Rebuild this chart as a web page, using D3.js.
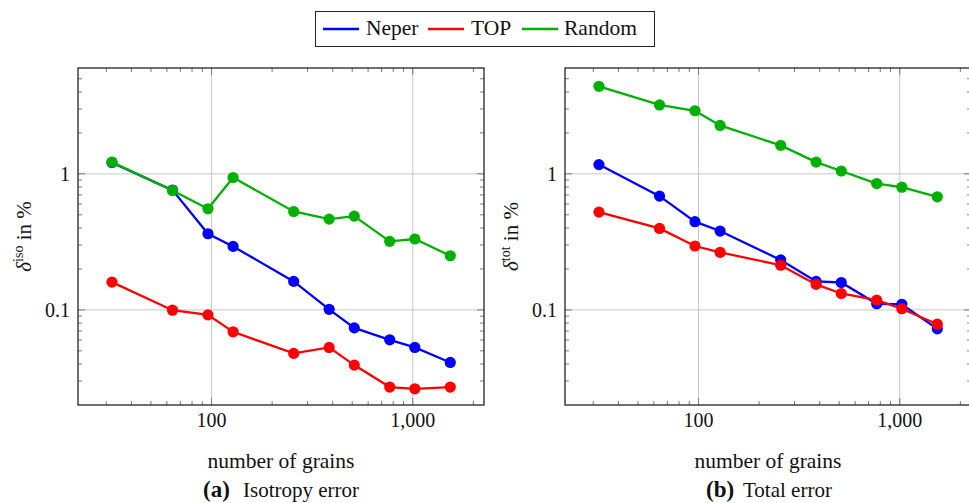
<!DOCTYPE html>
<html>
<head>
<meta charset="utf-8">
<script src="https://cdn.jsdelivr.net/npm/d3@7"></script>
<style>
  body { margin: 0; background: #fff; }
  svg { font-family: "Liberation Serif", "DejaVu Serif", serif; fill: #111; }
</style>
</head>
<body>
<svg id="chart" width="969" height="503"></svg>
<script>
// number of grains (x values, same for every series)
var grains = [32, 64, 96, 128, 256, 384, 512, 768, 1024, 1536];

// (a) isotropy error in %
var isoNeper  = [1.21, 0.76, 0.363, 0.293, 0.162, 0.101, 0.0738, 0.0603, 0.053, 0.0411];
var isoTop    = [0.160, 0.0995, 0.0919, 0.069, 0.0479, 0.053, 0.0393, 0.0271, 0.0263, 0.0271];
var isoRandom = [1.22, 0.755, 0.554, 0.94, 0.529, 0.465, 0.489, 0.319, 0.332, 0.25];

// (b) total error in %
var totNeper  = [1.17, 0.686, 0.445, 0.380, 0.233, 0.162, 0.159, 0.111, 0.110, 0.0726];
var totTop    = [0.523, 0.397, 0.295, 0.265, 0.213, 0.154, 0.132, 0.118, 0.102, 0.0785];
var totRandom = [4.40, 3.21, 2.91, 2.27, 1.62, 1.22, 1.05, 0.849, 0.798, 0.678];

var seriesNames = ["Neper", "TOP", "Random"];
var colors = {Neper: "#0000ff", TOP: "#ff0000", Random: "#00b000"};

var xTicks = [100, 1000];
var yTicks = [0.1, 1];

var svg = d3.select("#chart");

// legend
var leg = svg.append("g");
leg.append("rect").attr("x", 315.5).attr("y", 11.5).attr("width", 339).attr("height", 35)
  .attr("fill", "#fff").attr("stroke", "#222").attr("stroke-width", 1);
var legPos = [{lx: 323, tx: 366}, {lx: 428, tx: 471}, {lx: 522, tx: 564}];
seriesNames.forEach(function(s, i) {
  leg.append("line").attr("x1", legPos[i].lx).attr("x2", legPos[i].lx + 36)
    .attr("y1", 29).attr("y2", 29).attr("stroke", colors[s]).attr("stroke-width", 2.3);
  leg.append("text").attr("x", legPos[i].tx).attr("y", 35).attr("font-size", 21.5).text(s);
});

function minorTicks(lo, hi) {
  var out = [];
  for (var e = Math.floor(Math.log10(lo)); e <= Math.ceil(Math.log10(hi)); e++) {
    for (var m = 2; m <= 9; m++) {
      var v = m * Math.pow(10, e);
      if (v > lo && v < hi) out.push(v);
    }
  }
  return out;
}

function panel(x0, x1, data, ysup, capLetter, capText, capX, capTx) {
  var y0 = 68, y1 = 405;
  var x = d3.scaleLog().domain([21.7, 2259]).range([x0, x1]);
  var y = d3.scaleLog().domain([0.02, 6]).range([y1, y0]);
  var g = svg.append("g");

  // grid
  xTicks.forEach(function(t) {
    g.append("line").attr("x1", x(t)).attr("x2", x(t)).attr("y1", y0).attr("y2", y1)
      .attr("stroke", "#c8c8c8").attr("stroke-width", 1);
  });
  yTicks.forEach(function(t) {
    g.append("line").attr("x1", x0).attr("x2", x1).attr("y1", y(t)).attr("y2", y(t))
      .attr("stroke", "#c8c8c8").attr("stroke-width", 1);
  });

  // ticks (inside, all four sides)
  var tc = "#7a7a7a";
  minorTicks(21.7, 2259).forEach(function(t) {
    g.append("line").attr("x1", x(t)).attr("x2", x(t)).attr("y1", y1).attr("y2", y1 - 4).attr("stroke", tc);
    g.append("line").attr("x1", x(t)).attr("x2", x(t)).attr("y1", y0).attr("y2", y0 + 4).attr("stroke", tc);
  });
  xTicks.forEach(function(t) {
    g.append("line").attr("x1", x(t)).attr("x2", x(t)).attr("y1", y1).attr("y2", y1 - 7).attr("stroke", tc);
    g.append("line").attr("x1", x(t)).attr("x2", x(t)).attr("y1", y0).attr("y2", y0 + 7).attr("stroke", tc);
  });
  minorTicks(0.02, 6).forEach(function(t) {
    g.append("line").attr("x1", x0).attr("x2", x0 + 4).attr("y1", y(t)).attr("y2", y(t)).attr("stroke", tc);
    g.append("line").attr("x1", x1).attr("x2", x1 - 4).attr("y1", y(t)).attr("y2", y(t)).attr("stroke", tc);
  });
  yTicks.forEach(function(t) {
    g.append("line").attr("x1", x0).attr("x2", x0 + 7).attr("y1", y(t)).attr("y2", y(t)).attr("stroke", tc);
    g.append("line").attr("x1", x1).attr("x2", x1 - 7).attr("y1", y(t)).attr("y2", y(t)).attr("stroke", tc);
  });

  // frame
  g.append("rect").attr("x", x0).attr("y", y0).attr("width", x1 - x0).attr("height", y1 - y0)
    .attr("fill", "none").attr("stroke", "#111").attr("stroke-width", 1.2);

  // tick labels
  var fmt = d3.format(",");
  xTicks.forEach(function(t) {
    g.append("text").attr("x", x(t)).attr("y", 427).attr("text-anchor", "middle")
      .attr("font-size", 20).text(fmt(t));
  });
  yTicks.forEach(function(t) {
    g.append("text").attr("x", x0 - 8).attr("y", y(t) + 7).attr("text-anchor", "end")
      .attr("font-size", 20).text(t);
  });

  // series
  var line = d3.line().x(function(d) { return x(d[0]); }).y(function(d) { return y(d[1]); });
  seriesNames.forEach(function(s, i) {
    var pts = grains.map(function(gr, j) { return [gr, data[i][j]]; });
    g.append("path").datum(pts).attr("d", line).attr("fill", "none")
      .attr("stroke", colors[s]).attr("stroke-width", 2.3);
    g.selectAll(null).data(pts).enter().append("circle")
      .attr("cx", function(d) { return x(d[0]); }).attr("cy", function(d) { return y(d[1]); })
      .attr("r", 5.6).attr("fill", colors[s]);
  });

  // axis titles
  var cx = (x0 + x1) / 2;
  g.append("text").attr("x", cx).attr("y", 468).attr("text-anchor", "middle")
    .attr("font-size", 21.5).text("number of grains");

  var yl = g.append("text").attr("transform", "translate(" + (x0 - 47) + "," + ((y0 + y1) / 2) + ") rotate(-90)")
    .attr("text-anchor", "middle").attr("font-size", 21);
  yl.append("tspan").attr("font-style", "italic").text("δ");
  yl.append("tspan").attr("font-size", 14).attr("dy", -8).text(ysup);
  yl.append("tspan").attr("dy", 8).text(" in %");

  // caption
  g.append("text").attr("x", capX).attr("y", 497).attr("font-size", 23)
    .attr("font-weight", "bold").text(capLetter);
  g.append("text").attr("x", capTx).attr("y", 497).attr("font-size", 21).text(capText);
}

panel(78, 484, [isoNeper, isoTop, isoRandom], "iso", "(a)", "Isotropy error", 203, 243);
panel(565, 971, [totNeper, totTop, totRandom], "tot", "(b)", "Total error", 706, 743);
</script>
</body>
</html>
